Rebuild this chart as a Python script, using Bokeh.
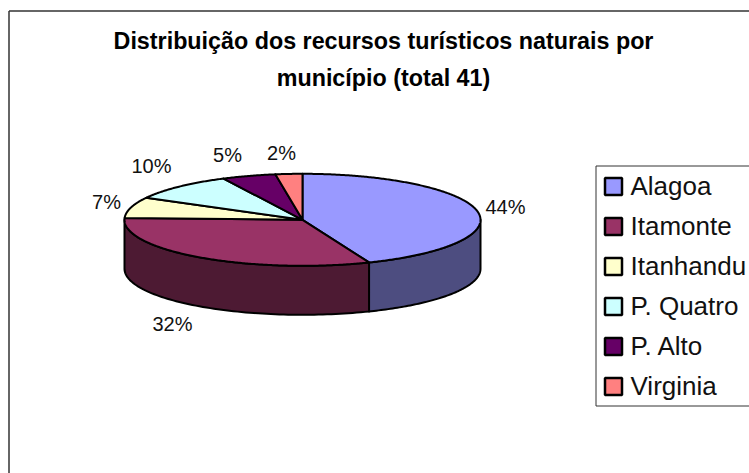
import math
from bokeh.plotting import figure
from bokeh.models import Range1d
from bokeh.core.properties import value
from bokeh.embed import file_html
from bokeh.resources import INLINE

categories = ["Alagoa", "Itamonte", "Itanhandu", "P. Quatro", "P. Alto", "Virginia"]
counts = [18, 13, 3, 4, 2, 1]
percent_labels = ["44%", "32%", "7%", "10%", "5%", "2%"]
top_colors = ["#9999FF", "#993366", "#FFFFCC", "#CCFFFF", "#660066", "#FF8080"]
side_colors = ["#4D4D80", "#4D1A33", "#808066", "#668080", "#330033", "#804040"]
title_lines = ["Distribuição dos recursos turísticos naturais por", "município (total 41)"]

W, H = 749, 473
OX, OY = 0, 0
p = figure(width=W, height=H, output_backend="svg", toolbar_location=None,
           x_range=Range1d(OX, OX + W), y_range=Range1d(OY + H, OY),
           min_border=0, outline_line_color=None)
p.axis.visible = False
p.grid.visible = False
p.background_fill_color = "white"
p.border_fill_color = "white"

FONT = value("Liberation Sans")

# chart frame (top and left edges; the rest is cut off by the window)
p.line([8.5, 8.5], [481, 10.5], line_color="#333333", line_width=1.5)
p.line([8.5, 760], [10.5, 10.5], line_color="#333333", line_width=1.5)

cx, cy, rx, ry, depth = 302, 219.3, 178, 46, 49
total = sum(counts)

def pt(deg, dy=0.0):
    a = math.radians(deg)
    return cx + rx * math.sin(a), cy - ry * math.cos(a) + dy

# slice spans, clockwise from 12 o'clock
spans = []
acc = 0.0
for c in counts:
    spans.append((acc, acc + 360.0 * c / total))
    acc += 360.0 * c / total

# outer side wall (only the front half of the rim is visible)
for (a0, a1), col in zip(spans, side_colors):
    s, e = max(a0, 90.0), min(a1, 270.0)
    if e <= s:
        continue
    n = 80
    angs = [s + (e - s) * i / n for i in range(n + 1)]
    top = [pt(a) for a in angs]
    bot = [pt(a, depth) for a in reversed(angs)]
    pts = top + bot
    p.patch([q[0] for q in pts], [q[1] for q in pts], fill_color=col,
            line_color="black", line_width=2, line_join="round")

# top surface
for (a0, a1), col in zip(spans, top_colors):
    n = max(8, int((a1 - a0) * 2))
    angs = [a0 + (a1 - a0) * i / n for i in range(n + 1)]
    pts = [(cx, cy)] + [pt(a) for a in angs]
    p.patch([q[0] for q in pts], [q[1] for q in pts], fill_color=col,
            line_color="black", line_width=2, line_join="round")

# percentage labels
label_x = [505, 172, 106, 151, 227, 281]
label_y = [206, 323, 201, 165, 154, 152]
p.text(label_x, label_y, text=percent_labels, text_font=FONT, text_font_size="20px",
       text_color="#111111", text_align="center", text_baseline="middle")

# title
p.text([383, 383], [40, 77], text=title_lines, text_font=FONT, text_font_size="23.3px",
       text_font_style="bold", text_color="black", text_align="center", text_baseline="alphabetic")

# legend box
p.quad(left=[595.5], right=[770], top=[165.5], bottom=[405.5], fill_color="white",
       line_color="#333333", line_width=1)
row_y = [186 + 40 * i for i in range(len(categories))]
p.rect([613] * 6, row_y, width=17, height=17, fill_color=top_colors,
       line_color="black", line_width=2.5)
text_y = [y - 1 for y in row_y]
p.text([630] * 6, text_y, text=categories, text_font=FONT, text_font_size="26px",
       text_color="#111111", text_align="left", text_baseline="middle")

open("out.html", "w").write(file_html(p, INLINE))
